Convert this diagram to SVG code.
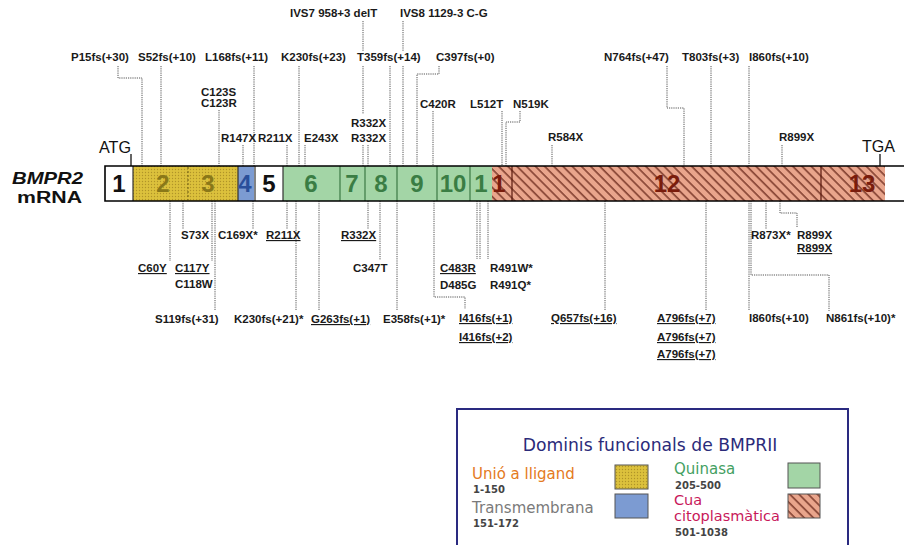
<svg xmlns="http://www.w3.org/2000/svg" width="904" height="545" viewBox="0 0 904 545">
<defs>
<style>
.m{font-family:"Liberation Sans",Arial,sans-serif;font-weight:bold;font-size:11.5px;fill:#1a1a1a}
.u{text-decoration:underline}
.c{fill:none;stroke:#555;stroke-width:1;stroke-dasharray:1.2 1}
.ex{font-family:"Liberation Sans",Arial,sans-serif;font-weight:bold;font-size:24px;text-anchor:middle}
.dv{stroke-width:1.2}
.lg{font-family:"DejaVu Sans",Verdana,sans-serif}
.nr{font-family:"DejaVu Sans",Verdana,sans-serif;font-size:10px;font-weight:bold;fill:#444}
</style>
<pattern id="dots" patternUnits="userSpaceOnUse" width="3" height="3">
<rect width="3" height="3" fill="#dcc13c"/>
<circle cx="1.5" cy="1.5" r="0.7" fill="#b09428"/>
</pattern>
<pattern id="hatch" patternUnits="userSpaceOnUse" width="6.5" height="6.5" patternTransform="rotate(-45)">
<rect width="6.5" height="6.5" fill="#e9a58c"/>
<line x1="1" y1="0" x2="1" y2="6.5" stroke="#6b2a1c" stroke-width="1.3"/>
</pattern>
</defs>
<rect width="904" height="545" fill="#fff"/>

<g id="connectors">
<path class="c" d="M118,66V78H142V166M161,66V166M254,66V166M299,66V166M363,21V51M363,66V114M403,21V51M403,66V166M390,66V166M439,66V74H417V166M219,110V166M243,145V166M287,145V166M305,145V166M363,145V166M368,145V166M433,111V166M502,111V166M520,111V122H506V166M552,145V166M667,66V108H684V166M711,66V166M749,66V166M782,145V166"/>
<path class="c" d="M170,201V261M183,201V229M212,201V261M215,201V311M253,201V229M287,201V229M296,201V311M319,201V311M368,201V229M380,201V260M397,201V311M434,201V297H465V309M477,201V259M480,201V259M488,201V259M605,201V311M706,201V311M766,201V229M780,201V213H797V228M749,201V311M751,201V275H829V311"/>
<path d="M131,154V166M880,154V166" stroke="#000" stroke-width="1.2" fill="none"/>
</g>

<g id="bar">
<rect x="105" y="166" width="28" height="35" fill="#fff"/>
<rect x="133" y="166" width="105" height="35" fill="url(#dots)"/>
<rect x="238" y="166" width="16" height="35" fill="#7c9bd2"/>
<rect x="254" y="166" width="29" height="35" fill="#fff"/>
<rect x="283" y="166" width="209" height="35" fill="#a3d5a6"/>
<rect x="492" y="166" width="393" height="35" fill="url(#hatch)"/>
<path class="dv" d="M133,166V201M238,166V201M255,166V201M283,166V201" stroke="#333"/>
<path d="M188,167V200" stroke="#6b5a10" stroke-width="1" stroke-dasharray="2 2"/>
<path class="dv" d="M340,166V201M365,166V201M397,166V201M437,166V201M470,166V201" stroke="#3d7a45"/>
<path class="dv" d="M512,166V201M821,166V201" stroke="#5a1a0e"/>
<path d="M904,166H105V201H904" fill="none" stroke="#000" stroke-width="1.6"/>
</g>

<g id="exons">
<text class="ex" x="119" y="192" fill="#111">1</text>
<text class="ex" x="163" y="192" fill="#8a7818">2</text>
<text class="ex" x="208" y="192" fill="#8a7818">3</text>
<text class="ex" x="245" y="192" fill="#2a4f9a">4</text>
<text class="ex" x="269" y="192" fill="#111">5</text>
<text class="ex" x="311" y="192" fill="#3a7d44">6</text>
<text class="ex" x="352" y="192" fill="#3a7d44">7</text>
<text class="ex" x="381" y="192" fill="#3a7d44">8</text>
<text class="ex" x="417" y="192" fill="#3a7d44">9</text>
<text class="ex" x="453" y="192" fill="#3a7d44" font-size="22">10</text>
<text class="ex" x="481" y="192" fill="#3a7d44">1</text>
<text class="ex" x="499" y="192" fill="#7a1c0c">1</text>
<text class="ex" x="667" y="192" fill="#7a1c0c">12</text>
<text class="ex" x="862" y="192" fill="#7a1c0c">13</text>
</g>

<g id="titles" font-family="Liberation Sans, Arial, sans-serif">
<text x="12" y="184" font-size="17" font-weight="bold" font-style="italic" textLength="71" lengthAdjust="spacingAndGlyphs" fill="#111">BMPR2</text>
<text x="17" y="203" font-size="16" font-weight="bold" textLength="65" lengthAdjust="spacingAndGlyphs" fill="#111">mRNA</text>
<text x="99" y="153" font-size="17" textLength="32" lengthAdjust="spacingAndGlyphs" fill="#111">ATG</text>
<text x="862" y="152" font-size="17" textLength="33" lengthAdjust="spacingAndGlyphs" fill="#111">TGA</text>
</g>

<g id="mut-top">
<text class="m" x="290" y="17">IVS7 958+3 delT</text>
<text class="m" x="400" y="17">IVS8 1129-3 C-G</text>
<text class="m" x="71" y="61">P15fs(+30)</text>
<text class="m" x="138" y="61">S52fs(+10)</text>
<text class="m" x="205" y="61">L168fs(+11)</text>
<text class="m" x="281" y="61">K230fs(+23)</text>
<text class="m" x="357" y="61">T359fs(+14)</text>
<text class="m" x="436" y="61">C397fs(+0)</text>
<text class="m" x="604" y="61">N764fs(+47)</text>
<text class="m" x="682" y="61">T803fs(+3)</text>
<text class="m" x="749" y="61">I860fs(+10)</text>
<text class="m" x="201" y="96">C123S</text>
<text class="m" x="201" y="107">C123R</text>
<text class="m" x="420" y="108">C420R</text>
<text class="m" x="470" y="108">L512T</text>
<text class="m" x="513" y="108">N519K</text>
<text class="m" x="351" y="127">R332X</text>
<text class="m" x="351" y="142">R332X</text>
<text class="m" x="221" y="142">R147X</text>
<text class="m" x="258" y="142">R211X</text>
<text class="m" x="304" y="142">E243X</text>
<text class="m" x="548" y="141">R584X</text>
<text class="m" x="779" y="141">R899X</text>
</g>

<g id="mut-bottom">
<text class="m" x="181" y="239">S73X</text>
<text class="m" x="218" y="239">C169X*</text>
<text class="m u" x="266" y="239">R211X</text>
<text class="m u" x="341" y="239">R332X</text>
<text class="m" x="751" y="239">R873X*</text>
<text class="m" x="797" y="239">R899X</text>
<text class="m u" x="797" y="252">R899X</text>
<text class="m u" x="138" y="272">C60Y</text>
<text class="m u" x="175" y="272">C117Y</text>
<text class="m" x="175" y="288">C118W</text>
<text class="m" x="353" y="272">C347T</text>
<text class="m u" x="440" y="272">C483R</text>
<text class="m" x="440" y="289">D485G</text>
<text class="m" x="490" y="272">R491W*</text>
<text class="m" x="490" y="289">R491Q*</text>
<text class="m" x="155" y="323">S119fs(+31)</text>
<text class="m" x="234" y="323">K230fs(+21)*</text>
<text class="m u" x="311" y="323">G263fs(+1)</text>
<text class="m" x="383" y="323">E358fs(+1)*</text>
<text class="m u" x="459" y="322">I416fs(+1)</text>
<text class="m u" x="459" y="341">I416fs(+2)</text>
<text class="m u" x="551" y="322">Q657fs(+16)</text>
<text class="m u" x="657" y="322">A796fs(+7)</text>
<text class="m u" x="657" y="341">A796fs(+7)</text>
<text class="m u" x="657" y="358">A796fs(+7)</text>
<text class="m" x="749" y="322">I860fs(+10)</text>
<text class="m" x="826" y="322">N861fs(+10)*</text>
</g>

<g id="legend">
<rect x="457" y="409" width="391" height="150" fill="#fff" stroke="#2a2a80" stroke-width="2"/>
<text class="lg" x="650" y="451" font-size="17.2" text-anchor="middle" fill="#2b2b7a">Dominis funcionals de BMPRII</text>
<text class="lg" x="472" y="479" font-size="15" fill="#e47a22">Unió a lligand</text>
<text class="nr" x="473" y="493">1-150</text>
<text class="lg" x="472" y="513" font-size="15" fill="#7a7a7a">Transmembrana</text>
<text class="nr" x="473" y="527">151-172</text>
<text class="lg" x="674" y="474" font-size="15" fill="#44a062">Quinasa</text>
<text class="nr" x="675" y="489">205-500</text>
<text class="lg" x="674" y="505" font-size="14.5" fill="#c8185a">Cua</text>
<text class="lg" x="674" y="521" font-size="14.5" fill="#c8185a">citoplasmàtica</text>
<text class="nr" x="675" y="536">501-1038</text>
<rect x="615" y="465" width="33" height="24" fill="url(#dots)" stroke="#555" stroke-width="1"/>
<rect x="615" y="494" width="33" height="24" fill="#7c9bd2" stroke="#555" stroke-width="1"/>
<rect x="788" y="463" width="32" height="25" fill="#a3d5a6" stroke="#555" stroke-width="1"/>
<rect x="788" y="494" width="32" height="24" fill="url(#hatch)" stroke="#555" stroke-width="1"/>
</g>
</svg>
